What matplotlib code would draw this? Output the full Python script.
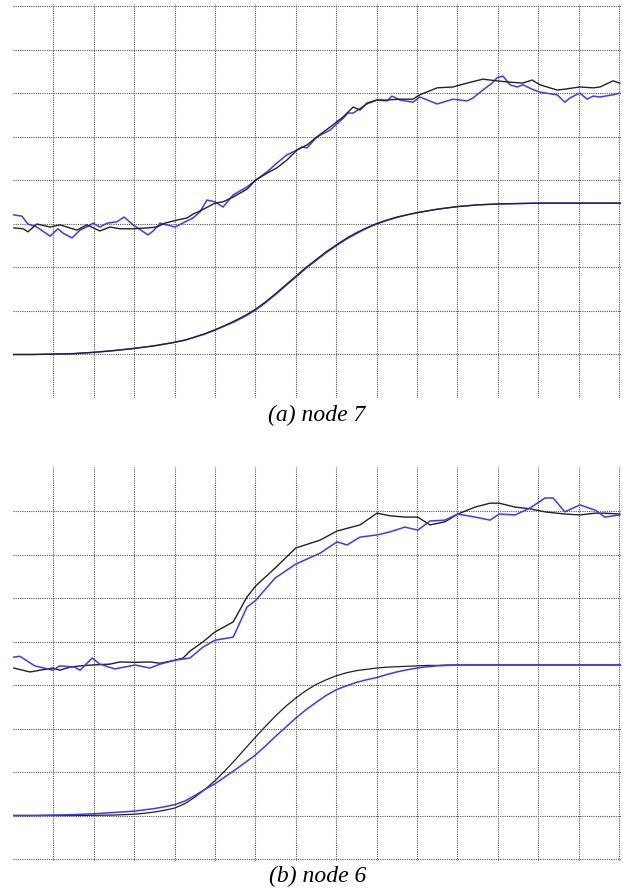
import matplotlib
matplotlib.use("Agg")
import matplotlib.pyplot as plt

# ---------------- Panel (a): node 7 ----------------
a_noisy_black_x = [0.02, 0.25, 0.37, 0.59, 0.92, 1.16, 1.58, 1.83, 2.15, 2.40, 2.65, 2.97, 3.32, 3.56,
                   3.76, 4.06, 4.31, 4.46, 4.63, 5.00, 5.20, 5.45, 5.79, 6.01, 6.29, 6.53, 6.78, 7.03,
                   7.28, 7.52, 7.85, 8.17, 8.42, 8.59, 8.76, 9.01, 9.26, 9.58, 9.90, 10.07, 10.50,
                   10.89, 11.24, 11.63, 11.98, 12.30, 12.62, 12.85, 13.04, 13.47, 13.66, 14.03, 14.36,
                   14.53, 14.85, 15.02]
a_noisy_black_y = [3.91, 3.89, 3.82, 4.00, 3.93, 3.98, 3.86, 3.98, 3.84, 3.93, 3.89, 3.89, 3.91, 3.93,
                   4.02, 4.09, 4.14, 4.23, 4.30, 4.48, 4.51, 4.62, 4.80, 5.01, 5.17, 5.29, 5.47, 5.70,
                   5.82, 6.00, 6.23, 6.46, 6.69, 6.62, 6.78, 6.85, 6.85, 6.87, 6.87, 6.97, 7.13,
                   7.15, 7.24, 7.33, 7.29, 7.26, 7.24, 7.31, 7.20, 7.08, 7.10, 7.15, 7.13,
                   7.15, 7.29, 7.24]
a_noisy_blue_x = [0.02, 0.22, 0.37, 0.59, 0.92, 1.11, 1.24, 1.46, 1.66, 1.86, 1.98, 2.15, 2.33, 2.57,
                  2.75, 2.97, 3.34, 3.47, 3.64, 3.81, 4.01, 4.26, 4.46, 4.63, 4.80, 5.00, 5.20, 5.45,
                  5.79, 6.01, 6.29, 6.53, 6.78, 7.03, 7.15, 7.28, 7.52, 7.85, 8.17, 8.29, 8.42, 8.76,
                  9.01, 9.26, 9.38, 9.58, 9.90, 10.07, 10.50, 10.89, 11.24, 11.39, 11.63, 11.86, 11.98,
                  12.13, 12.30, 12.48, 12.62, 12.85, 13.04, 13.47, 13.66, 13.79, 14.03, 14.21, 14.36,
                  14.53, 14.85, 15.02]
a_noisy_blue_y = [4.21, 4.18, 4.00, 3.93, 3.72, 3.89, 3.79, 3.68, 3.86, 3.95, 4.02, 3.93, 4.02, 4.05,
                  4.16, 3.98, 3.75, 3.84, 4.02, 3.98, 3.93, 4.05, 4.14, 4.28, 4.55, 4.51, 4.39, 4.67,
                  4.85, 5.01, 5.20, 5.40, 5.59, 5.70, 5.77, 5.75, 6.00, 6.16, 6.43, 6.55, 6.55, 6.76,
                  6.85, 6.83, 6.94, 6.85, 6.80, 6.92, 6.76, 6.87, 6.83, 6.90, 7.08, 7.24, 7.36,
                  7.40, 7.20, 7.15, 7.20, 7.10, 7.03, 6.97, 6.80, 6.90, 7.01, 6.87, 6.94,
                  6.92, 6.97, 7.01]

a_smooth_x = [0, 0.5, 1, 1.5, 2, 2.5,
              3, 3.25, 3.5, 3.75, 4, 4.25, 4.5, 4.75, 5, 5.25, 5.5, 5.75, 6, 6.25, 6.5, 6.75,
              7, 7.25, 7.5, 7.75, 8, 8.25, 8.5, 8.75, 9, 9.25, 9.5, 9.75, 10, 10.25, 10.5, 10.75,
              11, 11.25, 11.5, 11.75, 12,
              12.5, 13, 14, 15.05]
a_smooth_black_y = [1.00, 1.00, 1.01, 1.02, 1.05, 1.09,
                    1.14, 1.17, 1.20, 1.24, 1.28, 1.33, 1.40, 1.48, 1.57, 1.67, 1.78, 1.90, 2.04,
                    2.21, 2.40, 2.60, 2.80, 3.00, 3.18, 3.36, 3.52, 3.67, 3.80, 3.91, 4.01, 4.09,
                    4.16, 4.21, 4.26, 4.30, 4.34, 4.37, 4.40, 4.42, 4.44, 4.45, 4.46,
                    4.47, 4.48, 4.48, 4.48]
a_smooth_blue_y = [1.00, 1.00, 1.01, 1.02, 1.05, 1.09,
                   1.14, 1.17, 1.20, 1.24, 1.28, 1.33, 1.40, 1.47, 1.56, 1.66, 1.76, 1.88, 2.02,
                   2.19, 2.38, 2.58, 2.78, 2.98, 3.16, 3.34, 3.50, 3.65, 3.78, 3.90, 4.00, 4.08,
                   4.15, 4.21, 4.26, 4.30, 4.34, 4.37, 4.40, 4.42, 4.44, 4.45, 4.46,
                   4.47, 4.48, 4.48, 4.48]

# ---------------- Panel (b): node 6 ----------------
b_noisy_black_x = [0.02, 0.42, 0.67, 0.99, 1.16, 1.41, 1.66, 1.96, 2.40, 2.65, 3.02, 3.39, 3.64, 4.01,
                   4.21, 4.38, 4.70, 5.00, 5.45, 5.79, 6.01, 6.49, 7.00, 7.60, 8.02, 8.59, 9.01, 9.33,
                   9.70, 10.02, 10.32, 10.69, 11.01, 11.44, 11.81, 12.03, 12.43, 12.80, 13.17, 13.66,
                   14.03, 14.41, 14.65, 15.02]
b_noisy_black_y = [4.39, 4.30, 4.34, 4.39, 4.34, 4.41, 4.44, 4.46, 4.48, 4.53, 4.52, 4.53, 4.50, 4.57,
                   4.62, 4.78, 4.99, 5.22, 5.45, 6.02, 6.28, 6.69, 7.15, 7.33, 7.54, 7.68, 7.95, 7.89,
                   7.86, 7.86, 7.68, 7.75, 7.93, 8.09, 8.18, 8.18, 8.09, 8.05, 7.98, 7.93,
                   7.91, 7.95, 7.95, 7.93]
b_noisy_blue_x = [0.02, 0.17, 0.54, 0.99, 1.16, 1.53, 1.66, 1.96, 2.15, 2.52, 3.02, 3.39, 3.64, 4.01,
                  4.38, 4.70, 5.00, 5.45, 5.79, 6.01, 6.49, 7.00, 7.60, 8.02, 8.27, 8.59, 9.01, 9.33,
                  9.70, 10.02, 10.32, 10.69, 11.01, 11.44, 11.81, 12.03, 12.43, 12.80, 13.17, 13.37,
                  13.66, 14.03, 14.41, 14.65, 15.02]
b_noisy_blue_y = [4.64, 4.66, 4.44, 4.34, 4.44, 4.41, 4.34, 4.62, 4.48, 4.37, 4.46, 4.39, 4.48, 4.57,
                  4.62, 4.87, 5.03, 5.10, 5.79, 5.95, 6.46, 6.78, 7.03, 7.29, 7.22, 7.40, 7.45, 7.52,
                  7.63, 7.56, 7.77, 7.79, 7.93, 7.86, 7.79, 7.93, 7.91, 8.07, 8.30, 8.30,
                  7.98, 8.14, 8.02, 7.86, 7.91]

b_smooth_x = [0, 0.5, 1, 1.5, 2, 2.5,
              3, 3.25, 3.5, 3.75, 4, 4.25, 4.5, 4.75, 5, 5.25, 5.5, 5.75, 6, 6.25, 6.5, 6.75,
              7, 7.25, 7.5, 7.75, 8, 8.25, 8.5, 8.75, 9, 9.25, 9.5, 9.75, 10, 10.25, 10.5, 10.75,
              11, 11.25, 11.5, 11.75, 12,
              12.5, 13, 14, 15.05]
b_smooth_black_y = [1.00, 1.00, 1.00, 1.00, 1.005, 1.01,
                    1.03, 1.05, 1.08, 1.12, 1.17, 1.27, 1.42, 1.60, 1.80, 2.03, 2.28, 2.54, 2.80,
                    3.05, 3.29, 3.51, 3.70, 3.87, 4.01, 4.12, 4.21, 4.28, 4.33, 4.36, 4.39, 4.41,
                    4.42, 4.43, 4.44, 4.45, 4.45, 4.46, 4.46, 4.46, 4.46, 4.46, 4.46,
                    4.46, 4.46, 4.46, 4.46]
b_smooth_blue_y = [1.00, 1.00, 1.01, 1.02, 1.04, 1.07,
                   1.10, 1.13, 1.16, 1.20, 1.25, 1.33, 1.46, 1.60, 1.73, 1.89, 2.05, 2.22, 2.39,
                   2.60, 2.82, 3.03, 3.24, 3.43, 3.60, 3.76, 3.89, 3.98, 4.06, 4.12, 4.17, 4.24,
                   4.30, 4.35, 4.39, 4.42, 4.44, 4.45, 4.46, 4.46, 4.46, 4.46, 4.46,
                   4.46, 4.46, 4.46, 4.46]

captions = ["(a) node 7", "(b) node 6"]

BLACK = "#222222"
BLUE = "#3a3aff"
GRID = "#555555"

W, H = 623, 888
fig = plt.figure(figsize=(W / 100, H / 100), dpi=100)

ux = 40.4   # px per x unit
uy = 43.5   # px per y unit
left_px = 13
xmax = 15.05
ax_w = xmax * ux


def make_axes(bottom_px, ylim):
    h = (ylim[1] - ylim[0]) * uy
    ax = fig.add_axes([left_px / W, (H - bottom_px) / H, ax_w / W, h / H])
    ax.set_xlim(0, xmax)
    ax.set_ylim(*ylim)
    for s in ax.spines.values():
        s.set_visible(False)
    ax.tick_params(length=0, labelleft=False, labelbottom=False)
    ax.grid(True, color=GRID, linestyle=(0, (1, 1)), linewidth=0.8)
    ax.set_axisbelow(True)
    return ax


# panel (a): y=0 at pixel 398
ax1 = make_axes(398, (0, 9.05))
ax1.set_xticks(range(1, 16))
ax1.set_yticks(range(1, 10))
ax1.plot(a_smooth_x, a_smooth_blue_y, color=BLUE, lw=1.1)
ax1.plot(a_smooth_x, a_smooth_black_y, color=BLACK, lw=0.9)
ax1.plot(a_noisy_blue_x, a_noisy_blue_y, color=BLUE, lw=1.1)
ax1.plot(a_noisy_black_x, a_noisy_black_y, color=BLACK, lw=1.0)

# panel (b): y=0 at pixel 859
ax2 = make_axes(859 + 0.05 * uy, (-0.05, 9))
ax2.set_xticks(range(1, 16))
ax2.set_yticks(range(0, 9))
ax2.plot(b_smooth_x, b_smooth_black_y, color=BLACK, lw=0.9)
ax2.plot(b_smooth_x, b_smooth_blue_y, color=BLUE, lw=1.1)
ax2.plot(b_noisy_black_x, b_noisy_black_y, color=BLACK, lw=1.0)
ax2.plot(b_noisy_blue_x, b_noisy_blue_y, color=BLUE, lw=1.1)

fig.text(316.5 / W, 1 - 415 / H, captions[0], ha="center", va="center",
         family="Liberation Serif", style="italic", fontsize=17)
fig.text(317.5 / W, 1 - 876 / H, captions[1], ha="center", va="center",
         family="Liberation Serif", style="italic", fontsize=17)

fig.savefig("out.png", dpi=100)
